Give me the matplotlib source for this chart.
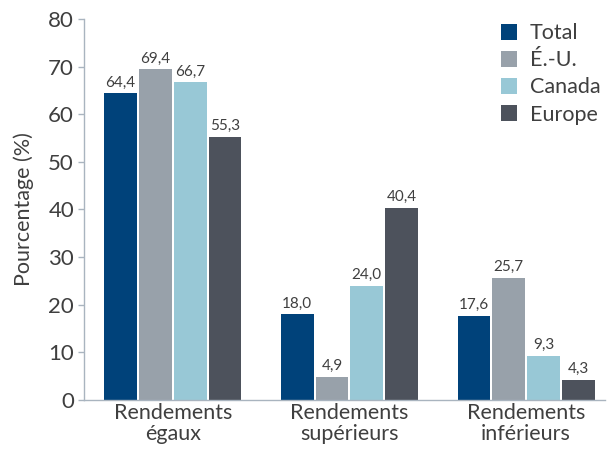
import matplotlib
matplotlib.use("Agg")
import matplotlib.pyplot as plt
import numpy as np

categories = ["Rendements\négaux", "Rendements\nsupérieurs", "Rendements\ninférieurs"]
series_names = ["Total", "É.-U.", "Canada", "Europe"]
total = [64.4, 18.0, 17.6]
eu = [69.4, 4.9, 25.7]
canada = [66.7, 24.0, 9.3]
europe = [55.3, 40.4, 4.3]
colors = ["#00427A", "#98A1AA", "#98C8D6", "#4D525C"]
yticks = [0, 10, 20, 30, 40, 50, 60, 70, 80]

plt.rcParams['font.family'] = ['Lato', 'DejaVu Sans']
txt = "#3F3F3F"

fig = plt.figure(figsize=(6.07, 4.51), dpi=100)
ax = fig.add_axes([0.138, 0.113, 0.859, 0.845])

x = np.arange(len(categories))
w = 0.185
step = 0.197
for i, (name, vals) in enumerate(zip(series_names, [total, eu, canada, europe])):
    pos = x + (i - 1.5) * step
    ax.bar(pos, vals, width=w, color=colors[i], label=name)
    for p, v in zip(pos, vals):
        ax.text(p, v + 0.8, f"{v:.1f}".replace(".", ","), ha="center", va="bottom",
                fontsize=11, color=txt)

ax.set_xlim(-0.504, 2.448)
ax.set_ylim(0, 80)
ax.set_yticks(yticks)
ax.set_yticklabels([str(t) for t in yticks], fontsize=16, color=txt)
ax.set_xticks(x)
ax.set_xticklabels(categories, fontsize=15.5, color=txt, linespacing=1.1)
ax.tick_params(axis="x", length=0, pad=2)
ax.tick_params(axis="y", length=4, width=1, color="#A9B4BF", pad=3)
ax.set_ylabel("Pourcentage (%)", fontsize=15.5, color=txt, labelpad=10)
for s in ["top", "right"]:
    ax.spines[s].set_visible(False)
for s in ["left", "bottom"]:
    ax.spines[s].set_color("#A9B4BF")
    ax.spines[s].set_linewidth(1)

leg = ax.legend(loc="upper right", bbox_to_anchor=(1.012, 1.017), frameon=False, fontsize=15.5,
                handlelength=0.75, handleheight=0.75, handletextpad=0.6, labelspacing=0.33,
                borderaxespad=0.1)
for t in leg.get_texts():
    t.set_color(txt)

fig.savefig("out.png", dpi=100)
